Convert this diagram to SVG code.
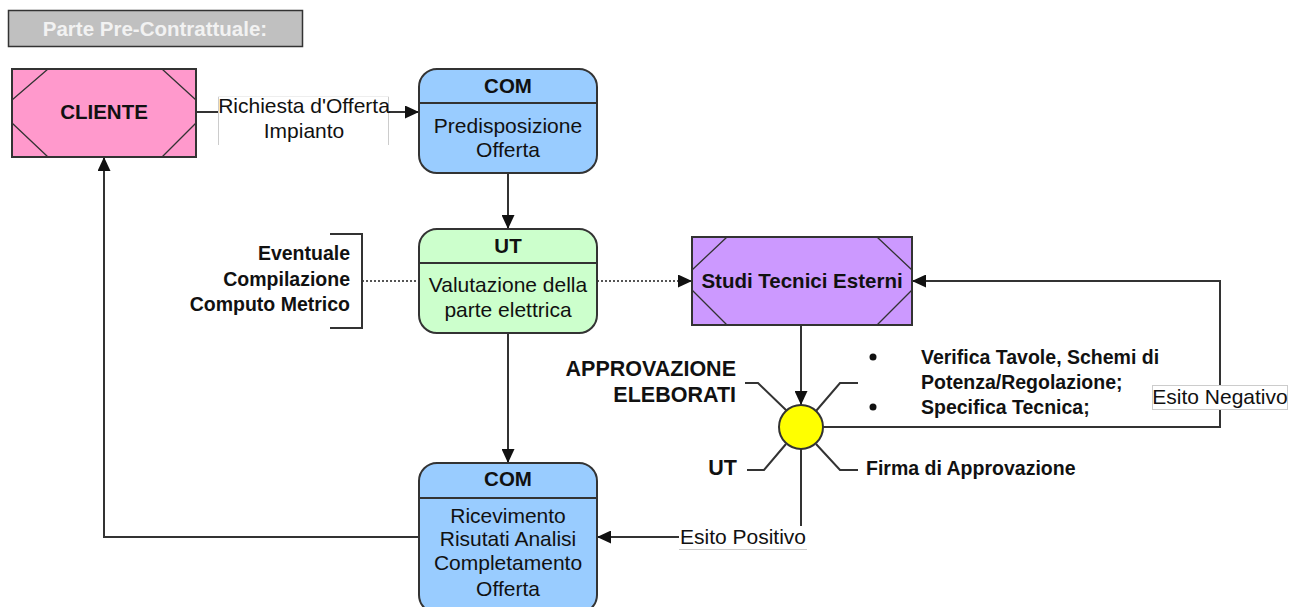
<svg xmlns="http://www.w3.org/2000/svg" width="1289" height="607" viewBox="0 0 1289 607">
<style>
text{font-family:"Liberation Sans",Arial,sans-serif;fill:#111;font-size:21px}
.b{font-weight:bold;font-size:20.5px}
.s{font-size:19.5px}
.m{text-anchor:middle}
.e{text-anchor:end}
.box{stroke:#333;stroke-width:2}
.thin{stroke:#333;stroke-width:1.3;fill:none}
.ln{stroke:#333;stroke-width:2;fill:none}
.dot{stroke:#555;stroke-width:2;fill:none;stroke-dasharray:2 2}
.lbl{fill:#fff;stroke:#ccc;stroke-width:1}
</style>
<defs>
<marker id="arr" viewBox="0 0 14 13" refX="14" refY="6.5" markerWidth="14" markerHeight="13" markerUnits="userSpaceOnUse" orient="auto">
<path d="M0,0 L14,6.5 L0,13 z" fill="#111"/>
</marker>
</defs>
<rect width="1289" height="607" fill="#fff"/>

<g id="header">
<rect x="8.5" y="10.5" width="294" height="36" fill="#c0c0c0" stroke="#333" stroke-width="1.5"/>
<text x="155" y="36" class="b m" style="fill:#f2f2f2">Parte Pre-Contrattuale:</text>
</g>

<g id="connectors">
<line x1="196" y1="112" x2="218" y2="112" class="ln"/>
<line x1="389" y1="112" x2="419" y2="112" class="ln" marker-end="url(#arr)"/>
<line x1="508" y1="173" x2="508" y2="229" class="ln" marker-end="url(#arr)"/>
<line x1="362" y1="281" x2="419" y2="281" class="dot"/>
<line x1="597" y1="281" x2="692" y2="281" class="dot" marker-end="url(#arr)"/>
<line x1="801" y1="325" x2="801" y2="405" class="ln" marker-end="url(#arr)"/>
<polyline points="823,427 1220,427 1220,281 912,281" class="ln" marker-end="url(#arr)"/>
<polyline points="801,449 801,537 597,537" class="ln" marker-end="url(#arr)"/>
<polyline points="419,537 104,537 104,157" class="ln" marker-end="url(#arr)"/>
<line x1="508" y1="333" x2="508" y2="463" class="ln" marker-end="url(#arr)"/>
<g id="lbl-richiesta">
<rect x="218" y="96" width="171" height="49" fill="#fff"/>
<line x1="218.5" y1="96" x2="218.5" y2="145" stroke="#ccc"/>
<line x1="388.5" y1="96" x2="388.5" y2="145" stroke="#ccc"/>
<line x1="218" y1="96.5" x2="389" y2="96.5" stroke="#eee"/>
<text x="304" y="113" class="m">Richiesta d'Offerta</text>
<text x="304" y="138" class="m">Impianto</text>
</g>
<g id="lbl-negativo">
<rect x="1152.5" y="385.5" width="135" height="24" class="lbl"/>
<text x="1220" y="404" class="m">Esito Negativo</text>
</g>
<g id="lbl-positivo">
<rect x="679" y="526" width="128" height="23" fill="#fff"/>
<line x1="679" y1="549.5" x2="807" y2="549.5" stroke="#ccc"/>
<text x="743" y="544" class="m">Esito Positivo</text>
</g>
</g>

<g id="cliente">
<rect x="12" y="69" width="184" height="88" fill="#ff99cc" class="box"/>
<path d="M48,69 L12,100 M12,123 L48,157 M162,69 L196,100 M196,123 L162,157" class="thin"/>
<text x="104" y="119" class="b m">CLIENTE</text>
</g>

<g id="com1">
<rect x="419" y="69" width="178" height="104" rx="18" fill="#99ccff" class="box"/>
<line x1="419" y1="103" x2="597" y2="103" class="box"/>
<text x="508" y="93" class="b m">COM</text>
<text x="508" y="133" class="m">Predisposizione</text>
<text x="508" y="157" class="m">Offerta</text>
</g>

<g id="ut">
<rect x="419" y="229" width="178" height="104" rx="18" fill="#ccffcc" class="box"/>
<line x1="419" y1="263" x2="597" y2="263" class="box"/>
<text x="508" y="253" class="b m">UT</text>
<text x="508" y="292" class="m">Valutazione della</text>
<text x="508" y="317" class="m">parte elettrica</text>
</g>

<g id="bracket">
<polyline points="330,234 362,234 362,328 330,328" class="ln"/>
<text x="350" y="260" class="b e s">Eventuale</text>
<text x="350" y="286" class="b e s">Compilazione</text>
<text x="350" y="311" class="b e s">Computo Metrico</text>
</g>

<g id="studi">
<rect x="692" y="237" width="220" height="88" fill="#cc99ff" class="box"/>
<path d="M727,237 L692,270 M692,290 L727,325 M877,237 L912,270 M912,290 L877,325" class="thin"/>
<text x="802" y="288" class="b m">Studi Tecnici Esterni</text>
</g>

<g id="approvazione">
<polyline points="745,383 758,383 787,411" class="ln"/>
<polyline points="858,383 840,383 816,411" class="ln"/>
<polyline points="747,470 764,470 786,444" class="ln"/>
<polyline points="858,470 840,470 816,444" class="ln"/>
<circle cx="801" cy="427" r="22" fill="#ffff00" class="box"/>
<text x="736" y="376" class="b e" style="font-size:21.5px">APPROVAZIONE</text>
<text x="736" y="402" class="b e" style="font-size:21.5px">ELEBORATI</text>
<text x="737" y="475" class="b e" style="font-size:21.5px">UT</text>
<circle cx="873" cy="357" r="3.5" fill="#111"/>
<circle cx="873" cy="407" r="3.5" fill="#111"/>
<text x="921" y="364" class="b s">Verifica Tavole, Schemi di</text>
<text x="921" y="389" class="b s">Potenza/Regolazione;</text>
<text x="921" y="414" class="b s">Specifica Tecnica;</text>
<text x="866" y="475" class="b s">Firma di Approvazione</text>
</g>

<g id="com2">
<rect x="419" y="463" width="178" height="150" rx="18" fill="#99ccff" class="box"/>
<line x1="419" y1="498" x2="597" y2="498" class="box"/>
<text x="508" y="486" class="b m">COM</text>
<text x="508" y="523" class="m">Ricevimento</text>
<text x="508" y="546" class="m">Risutati Analisi</text>
<text x="508" y="570" class="m">Completamento</text>
<text x="508" y="596" class="m">Offerta</text>
</g>
</svg>
